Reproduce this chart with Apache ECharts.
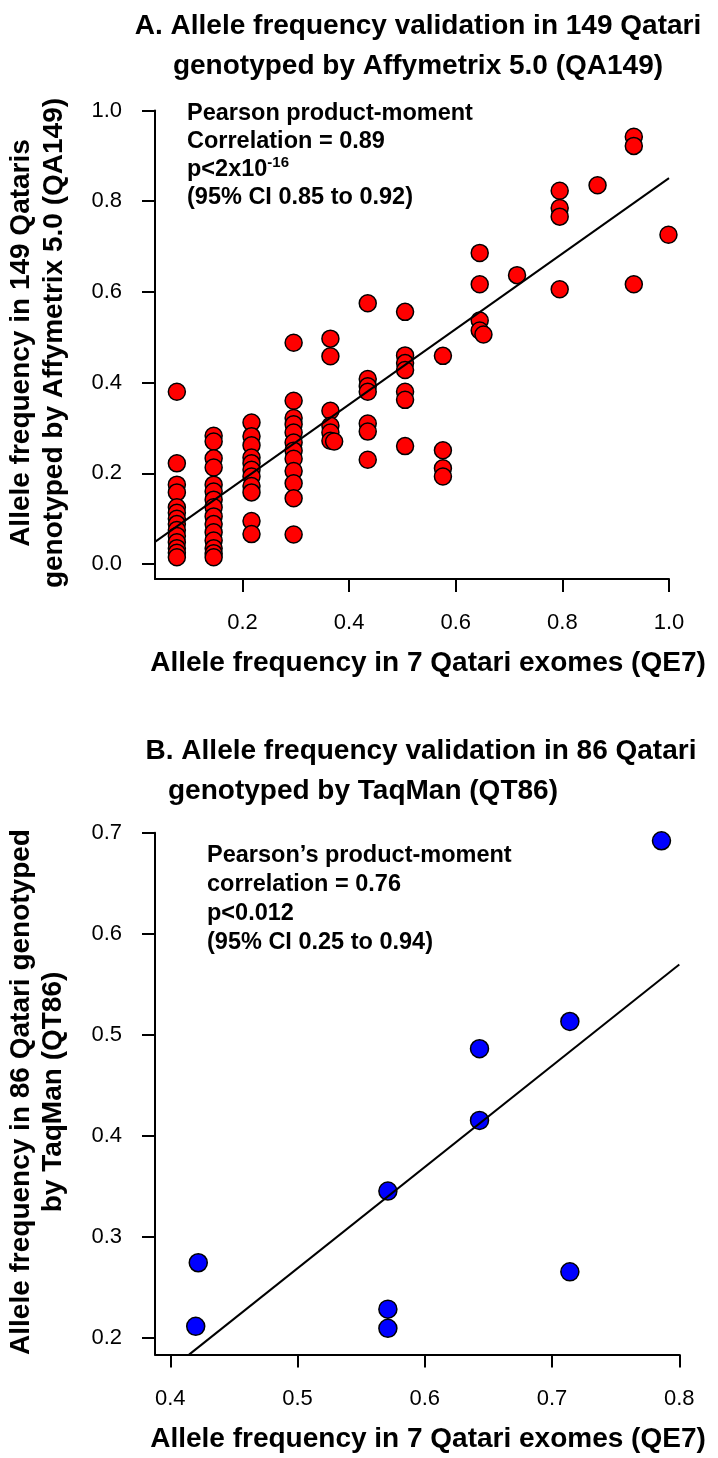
<!DOCTYPE html>
<html><head><meta charset="utf-8">
<script src="https://cdn.jsdelivr.net/npm/echarts@6/dist/echarts.min.js"></script>
<style>html,body{margin:0;padding:0;background:#fff}#c{width:718px;height:1458px}</style>
</head><body><div id="c"></div>
<script>
// ---------- Panel A data (QE7 vs QA149) ----------
const qe7ColsA = [0.077, 0.146, 0.217, 0.296, 0.365, 0.435, 0.505, 0.576, 0.645, 0.715, 0.795, 0.866, 0.934, 0.999];
const qa149ColsA = [
  [0.380, 0.222, 0.175, 0.158, 0.125, 0.113, 0.100, 0.088, 0.075, 0.062, 0.048, 0.035, 0.025, 0.015],
  [0.283, 0.270, 0.233, 0.213, 0.175, 0.160, 0.142, 0.125, 0.105, 0.088, 0.070, 0.052, 0.035, 0.024, 0.015],
  [0.312, 0.282, 0.262, 0.235, 0.222, 0.208, 0.193, 0.172, 0.158, 0.095, 0.066],
  [0.488, 0.360, 0.322, 0.308, 0.290, 0.268, 0.250, 0.232, 0.205, 0.178, 0.145, 0.065],
  [0.497, 0.458, 0.338, 0.305, 0.290, 0.272],
  [0.575, 0.408, 0.392, 0.380, 0.310, 0.292, 0.230],
  [0.556, 0.460, 0.443, 0.428, 0.380, 0.362, 0.260],
  [0.459, 0.251, 0.211, 0.193],
  [0.686, 0.617, 0.537, 0.515],
  [0.637],
  [0.823, 0.785, 0.766, 0.606],
  [0.835],
  [0.942, 0.922, 0.617],
  [0.726]
];
const extraQE7A = [0.372, 0.652];
const extraQA149A = [0.270, 0.506];
const fitA = [0.019, 0.832];            // intercept, slope
const xRangeA = [0.036, 1.0];
const yRangeA = [-0.033, 1.0];
const ticksA = [0.0, 0.2, 0.4, 0.6, 0.8, 1.0];
const xTicksA = [0.2, 0.4, 0.6, 0.8, 1.0];

// ---------- Panel B data (QE7 vs QT86) ----------
const qe7B  = [0.422, 0.420, 0.571, 0.571, 0.571, 0.643, 0.643, 0.714, 0.714, 0.786];
const qt86B = [0.274, 0.211, 0.345, 0.228, 0.209, 0.486, 0.415, 0.513, 0.265, 0.692];
const fitB = [-0.233, 1.003];
const xRangeB = [0.388, 0.8];
const yRangeB = [0.183, 0.7];
const xTicksB = [0.4, 0.5, 0.6, 0.7, 0.8];
const yTicksB = [0.2, 0.3, 0.4, 0.5, 0.6, 0.7];

// ---------- texts ----------
const titleA = ['A. Allele frequency validation in 149 Qatari', 'genotyped by Affymetrix 5.0 (QA149)'];
const titleB = ['B. Allele frequency validation in 86 Qatari', 'genotyped by TaqMan (QT86)'];
const yTitleA = ['Allele frequency in 149 Qataris', 'genotyped by Affymetrix 5.0 (QA149)'];
const yTitleB = ['Allele frequency in 86 Qatari genotyped', 'by TaqMan (QT86)'];
const xTitle = 'Allele frequency in 7 Qatari exomes (QE7)';
const noteA = ['Pearson product-moment', 'Correlation = 0.89', 'p<2x10{s|-16}', '(95% CI 0.85 to 0.92)'];
const noteB = ['Pearson\u2019s product-moment', 'correlation = 0.76', 'p<0.012', '(95% CI 0.25 to 0.94)'];

// ---------- build ----------
const ptsA = [];
qe7ColsA.forEach((x, i) => qa149ColsA[i].forEach(y => ptsA.push([x, y])));
extraQE7A.forEach((x, i) => ptsA.push([x, extraQA149A[i]]));
const ptsB = qe7B.map((x, i) => [x, qt86B[i]]);

const lineA = [[xRangeA[0], fitA[0] + fitA[1] * xRangeA[0]], [xRangeA[1], fitA[0] + fitA[1] * xRangeA[1]]];
const xStartB = (yRangeB[0] - fitB[0]) / fitB[1];
const lineB = [[xStartB, yRangeB[0]], [xRangeB[1], fitB[0] + fitB[1] * xRangeB[1]]];

const FF = '"Liberation Sans", Arial, Helvetica, sans-serif';
function valAxis(idx, range, ticks, isX) {
  return {
    type: 'value', gridIndex: idx, min: range[0], max: range[1],
    axisLine: { show: true, onZero: false, lineStyle: { color: '#000', width: 2 } },
    axisTick: { show: true, inside: false, length: 13, customValues: ticks, lineStyle: { color: '#000', width: 2 } },
    axisLabel: { show: true, customValues: ticks, margin: isX ? 33 : 33, color: '#000', fontSize: 22, fontFamily: FF,
      formatter: v => v.toFixed(1) },
    splitLine: { show: false }
  };
}
const symStyle = (c) => ({ color: c, opacity: 1, borderColor: '#000', borderWidth: 1.5 });

const gText = (text, x, y, opts) => Object.assign({
  type: 'text', x: x, y: y,
  style: Object.assign({ text: text, fill: '#000', fontFamily: FF, fontWeight: 'bold', fontSize: 28, align: 'center', verticalAlign: 'middle' }, opts && opts.style || {})
}, opts && opts.rotation ? { rotation: opts.rotation } : {});

const graphics = [];
graphics.push(gText(titleA[0], 418, 26));
graphics.push(gText(titleA[1], 418, 66));
graphics.push(gText(titleB[0], 421, 751));
graphics.push(gText(titleB[1], 168, 791, { style: { align: 'left' } }));
graphics.push(gText(xTitle, 428, 663));
graphics.push(gText(xTitle, 428, 1439));
graphics.push(gText(yTitleA[0], 21, 343, { rotation: Math.PI / 2 }));
graphics.push(gText(yTitleA[1], 54, 343, { rotation: Math.PI / 2 }));
graphics.push(gText(yTitleB[0], 21, 1092, { rotation: Math.PI / 2 }));
graphics.push(gText(yTitleB[1], 53, 1092, { rotation: Math.PI / 2 }));
const noteYA = [114, 142, 170, 198];
noteA.forEach((t, i) => graphics.push(gText(t, 187, noteYA[i], { style: { align: 'left', fontSize: 23.5,
  rich: { s: { fontSize: 15, fontWeight: 'bold', fontFamily: FF, verticalAlign: 'top', padding: [0, 0, 14, 0] } } } })));
const noteYB = [856, 885, 914, 943];
noteB.forEach((t, i) => graphics.push(gText(t, 207, noteYB[i], { style: { align: 'left', fontSize: 23.5 } })));

const chart = echarts.init(document.getElementById('c'), null, { renderer: 'canvas' });
chart.setOption({
  animation: false,
  backgroundColor: '#fff',
  grid: [
    { left: 155, top: 110.5, width: 514, height: 468.5 },
    { left: 155, top: 832.7, width: 524.3, height: 521.9 }
  ],
  xAxis: [valAxis(0, xRangeA, xTicksA, true), valAxis(1, xRangeB, xTicksB, true)],
  yAxis: [valAxis(0, yRangeA, ticksA, false), valAxis(1, yRangeB, yTicksB, false)],
  series: [
    { type: 'line', xAxisIndex: 0, yAxisIndex: 0, data: lineA, symbol: 'none', lineStyle: { color: '#000', width: 2 }, z: 3 },
    { type: 'scatter', xAxisIndex: 0, yAxisIndex: 0, data: ptsA, symbolSize: 17, itemStyle: symStyle('#FF0000'), z: 2 },
    { type: 'line', xAxisIndex: 1, yAxisIndex: 1, data: lineB, symbol: 'none', lineStyle: { color: '#000', width: 2 }, z: 3 },
    { type: 'scatter', xAxisIndex: 1, yAxisIndex: 1, data: ptsB, symbolSize: 18, itemStyle: symStyle('#0000FF'), z: 2 }
  ],
  graphic: graphics
});
</script></body></html>
